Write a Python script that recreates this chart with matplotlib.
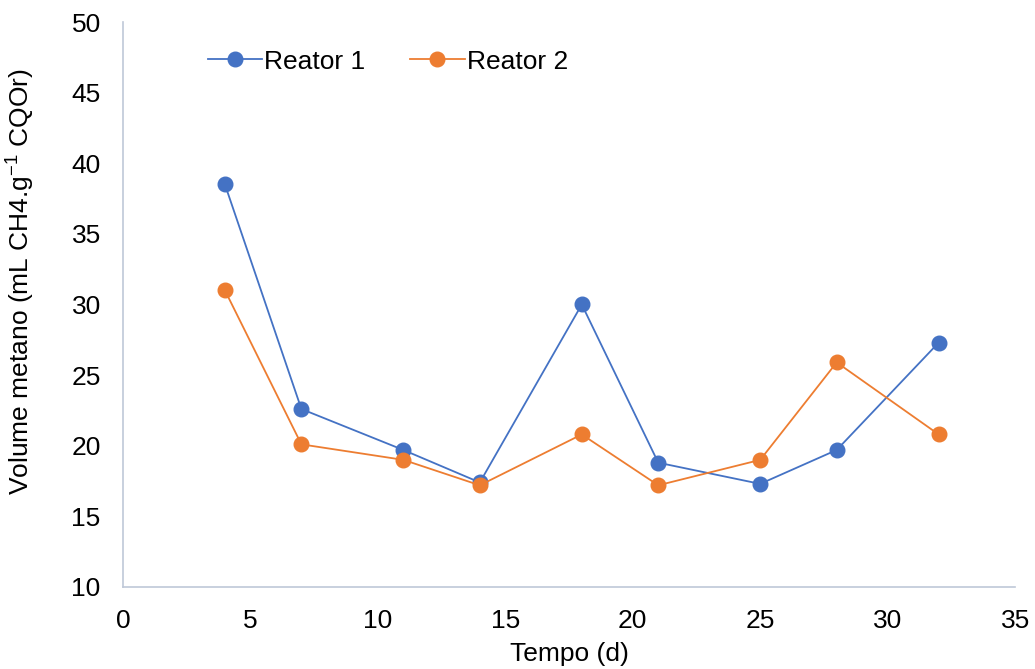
import matplotlib.pyplot as plt
import matplotlib as mpl

mpl.rcParams['font.family'] = ['Liberation Sans', 'DejaVu Sans']
mpl.rcParams['mathtext.default'] = 'regular'

tempo = [4, 7, 11, 14, 18, 21, 25, 28, 32]
reator1 = [38.5, 22.6, 19.7, 17.4, 30.0, 18.8, 17.3, 19.7, 27.3]
reator2 = [31.0, 20.1, 19.0, 17.2, 20.8, 17.2, 19.0, 25.9, 20.8]

FS = 19

fig = plt.figure(figsize=(10.35, 6.69), dpi=100)
ax = fig.add_axes([0.1188, 0.1226, 0.862, 0.8445])

ax.plot(tempo, reator1, '-o', color='#4472C4', lw=1.3, ms=10.5, label='Reator 1')
ax.plot(tempo, reator2, '-o', color='#ED7D31', lw=1.3, ms=10.5, label='Reator 2')

ax.set_xlim(0, 35)
ax.set_ylim(10, 50)
ax.set_xticks(range(0, 36, 5))
ax.set_yticks(range(10, 51, 5))
ax.tick_params(length=0, labelsize=FS, pad=16)
ax.tick_params(axis='y', pad=16)
for s in ['top', 'right']:
    ax.spines[s].set_visible(False)
for s in ['left', 'bottom']:
    ax.spines[s].set_color('#BFC8D8')
    ax.spines[s].set_linewidth(1.2)

ax.set_xlabel('Tempo (d)', fontsize=FS)
ax.set_ylabel('Volume metano (mL CH4.g$^{-1}$ CQOr)', fontsize=FS)
ax.xaxis.set_label_coords(0.5, -0.097)
ax.yaxis.set_label_coords(-0.096, 0.54)

ax.legend(loc='upper left', bbox_to_anchor=(0.095, 0.951), ncol=2, frameon=False,
          fontsize=FS, handlelength=2.05, handletextpad=0.1, columnspacing=1.7,
          borderpad=0, borderaxespad=0)

fig.savefig('out.png', dpi=100)
